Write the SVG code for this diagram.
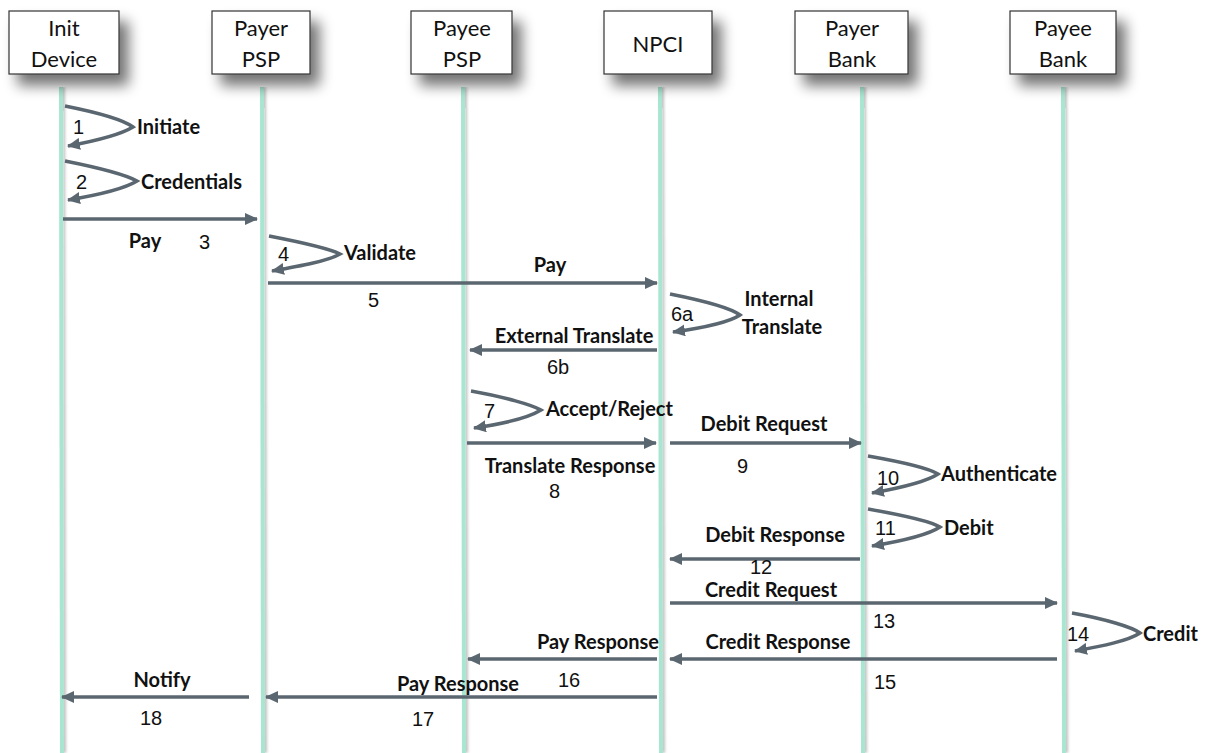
<svg xmlns="http://www.w3.org/2000/svg" width="1206" height="753" viewBox="0 0 1206 753">
<style>
.box{fill:#fff;stroke:#333;stroke-width:1.2}
.ht{font-family:Lato,"Open Sans",sans-serif;font-size:22px;fill:#111;text-anchor:middle}
.life{stroke:#a9e6d1;stroke-width:4}
.msg{stroke:#5b6770;stroke-width:3.5;fill:none}
.lb{font-family:Lato,"Liberation Sans",sans-serif;font-weight:bold;font-size:20px;fill:#111}
.mid{text-anchor:middle}
.num{font-family:"Liberation Sans",Arial,sans-serif;font-size:20px;fill:#111}
</style>
<defs>
<filter id="sh" x="-30%" y="-30%" width="170%" height="180%">
<feGaussianBlur in="SourceAlpha" stdDeviation="7"/>
<feOffset dx="9" dy="11" result="b"/>
<feComponentTransfer><feFuncA type="linear" slope="0.55"/></feComponentTransfer>
<feMerge><feMergeNode/><feMergeNode in="SourceGraphic"/></feMerge>
</filter>
<filter id="lsh" x="-200%" y="0" width="500%" height="100%">
<feGaussianBlur in="SourceAlpha" stdDeviation="1.5"/>
<feOffset dx="2" dy="0"/>
<feComponentTransfer><feFuncA type="linear" slope="0.25"/></feComponentTransfer>
<feMerge><feMergeNode/><feMergeNode in="SourceGraphic"/></feMerge>
</filter>
<marker id="ah" markerUnits="userSpaceOnUse" markerWidth="14" markerHeight="12" refX="12" refY="6" orient="auto">
<path d="M0,0 L13,6 L0,12 z" fill="#5b6770"/>
</marker>
</defs>
<rect width="1206" height="753" fill="#fff"/>
<g id="lifelines" filter="url(#lsh)">
<line class="life" x1="61" y1="87" x2="62" y2="753"/>
<line class="life" x1="262" y1="87" x2="263" y2="753"/>
<line class="life" x1="463" y1="87" x2="464" y2="753"/>
<line class="life" x1="660" y1="87" x2="661" y2="753"/>
<line class="life" x1="862" y1="87" x2="863" y2="753"/>
<line class="life" x1="1063" y1="87" x2="1064" y2="753"/>
</g>
<g id="n-init"><rect class="box" x="9" y="11" width="110" height="63" filter="url(#sh)"/><text class="ht" x="64" y="36">Init</text><text class="ht" x="64" y="67">Device</text></g>
<g id="n-payerpsp"><rect class="box" x="212" y="11" width="98" height="63" filter="url(#sh)"/><text class="ht" x="261" y="36">Payer</text><text class="ht" x="261" y="67">PSP</text></g>
<g id="n-payeepsp"><rect class="box" x="411" y="11" width="101" height="63" filter="url(#sh)"/><text class="ht" x="462" y="36">Payee</text><text class="ht" x="462" y="67">PSP</text></g>
<g id="n-npci"><rect class="box" x="604" y="11" width="108" height="63" filter="url(#sh)"/><text class="ht" x="658" y="52">NPCI</text></g>
<g id="n-payerbank"><rect class="box" x="795" y="11" width="113" height="63" filter="url(#sh)"/><text class="ht" x="852" y="36">Payer</text><text class="ht" x="852" y="67">Bank</text></g>
<g id="n-payeebank"><rect class="box" x="1010" y="11" width="106" height="63" filter="url(#sh)"/><text class="ht" x="1063" y="36">Payee</text><text class="ht" x="1063" y="67">Bank</text></g>
<g id="connectors">
<path class="msg" marker-end="url(#ah)" d="M65,106 C100,113 125,121 133,127 C120,135 95,141 68,146"/>
<path class="msg" marker-end="url(#ah)" d="M65,161 C100,168 128,176 137,181 C124,189 98,195 68,200"/>
<line class="msg" marker-end="url(#ah)" x1="63" y1="219" x2="257" y2="219"/>
<path class="msg" marker-end="url(#ah)" d="M269,236 C300,242 330,249 340,254 C328,261 300,266 272,271"/>
<line class="msg" marker-end="url(#ah)" x1="268" y1="283" x2="657" y2="283"/>
<path class="msg" marker-end="url(#ah)" d="M670,294 C705,301 732,309 740,315 C728,323 702,328 673,332"/>
<line class="msg" marker-end="url(#ah)" x1="657" y1="350" x2="470" y2="350"/>
<path class="msg" marker-end="url(#ah)" d="M471,391 C505,397 532,405 541,410 C528,418 502,424 474,428"/>
<line class="msg" marker-end="url(#ah)" x1="467" y1="443" x2="656" y2="443"/>
<line class="msg" marker-end="url(#ah)" x1="670" y1="443" x2="861" y2="443"/>
<path class="msg" marker-end="url(#ah)" d="M868,456 C902,462 930,469 938,474 C926,482 900,488 872,493"/>
<path class="msg" marker-end="url(#ah)" d="M868,509 C902,515 932,522 940,527 C928,535 902,541 872,546"/>
<line class="msg" marker-end="url(#ah)" x1="860" y1="559" x2="670" y2="559"/>
<line class="msg" marker-end="url(#ah)" x1="670" y1="603" x2="1057" y2="603"/>
<path class="msg" marker-end="url(#ah)" d="M1072,613 C1105,619 1132,627 1140,633 C1128,641 1102,646 1075,651"/>
<line class="msg" marker-end="url(#ah)" x1="1057" y1="659" x2="670" y2="659"/>
<line class="msg" marker-end="url(#ah)" x1="657" y1="659" x2="468" y2="659"/>
<line class="msg" marker-end="url(#ah)" x1="657" y1="697" x2="266" y2="697"/>
<line class="msg" marker-end="url(#ah)" x1="249" y1="697" x2="62" y2="697"/>
</g>
<g id="labels">
<text class="num" x="73" y="134">1</text><text class="lb" x="137" y="134">Initiate</text>
<text class="num" x="76" y="189">2</text><text class="lb" x="141" y="189">Credentials</text>
<text class="lb mid" x="145" y="248">Pay</text><text class="num" x="199" y="249">3</text>
<text class="num" x="278" y="261">4</text><text class="lb" x="344" y="260">Validate</text>
<text class="lb mid" x="550" y="272">Pay</text><text class="num" x="368" y="307">5</text>
<text class="num" x="671" y="321">6a</text><text class="lb mid" x="779" y="306">Internal</text><text class="lb mid" x="782" y="334">Translate</text>
<text class="lb mid" x="574" y="343">External Translate</text><text class="num" x="547" y="374">6b</text>
<text class="num" x="484" y="418">7</text><text class="lb" x="546" y="416">Accept/Reject</text>
<text class="lb mid" x="570" y="473">Translate Response</text><text class="num" x="549" y="498">8</text>
<text class="lb mid" x="764" y="431">Debit Request</text><text class="num" x="737" y="473">9</text>
<text class="num" x="877" y="485">10</text><text class="lb" x="941" y="481">Authenticate</text>
<text class="num" x="875" y="535">11</text><text class="lb" x="944" y="535">Debit</text>
<text class="lb mid" x="775" y="542">Debit Response</text><text class="num" x="750" y="574">12</text>
<text class="lb mid" x="771" y="597">Credit Request</text><text class="num" x="873" y="628">13</text>
<text class="num" x="1067" y="641">14</text><text class="lb" x="1143" y="641">Credit</text>
<text class="lb mid" x="778" y="649">Credit Response</text><text class="num" x="874" y="689">15</text>
<text class="lb mid" x="598" y="649">Pay Response</text><text class="num" x="558" y="687">16</text>
<text class="lb mid" x="458" y="691">Pay Response</text><text class="num" x="412" y="726">17</text>
<text class="lb mid" x="162" y="687">Notify</text><text class="num" x="140" y="725">18</text>
</g>
</svg>
